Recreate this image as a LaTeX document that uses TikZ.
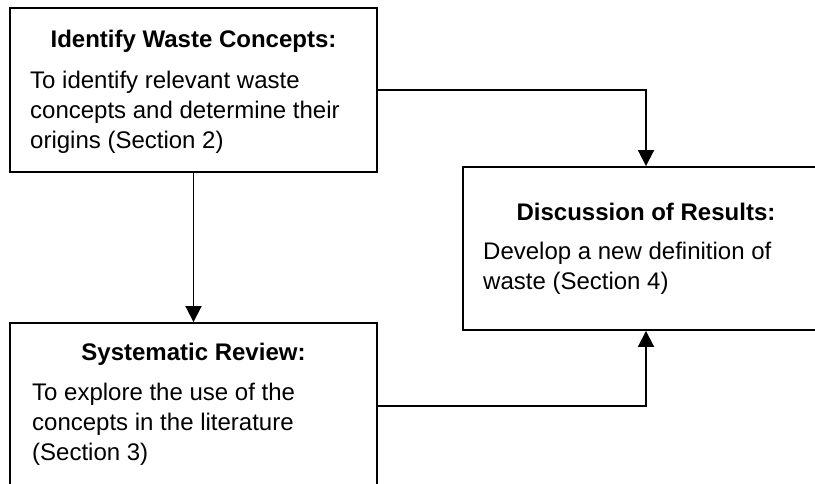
\documentclass[tikz,border=0pt]{standalone}
\usepackage{fontspec}
\setmainfont{Liberation Sans}
\usetikzlibrary{arrows.meta}
\begin{document}
\begin{tikzpicture}[x=1pt,y=-1pt,
  box/.style={draw, line width=1.9pt, inner sep=0pt},
  ttl/.style={font=\fontsize{24}{30}\selectfont\bfseries, anchor=base, inner sep=0pt},
  txt/.style={font=\fontsize{24}{30}\selectfont, anchor=base west, inner sep=0pt},
  arr/.style={line width=1.9pt, -{Triangle[width=16pt,length=16pt]}}]
\useasboundingbox (0,0) rectangle (815,483);
\clip (0,0) rectangle (815,483);
% boxes
\node[box, minimum width=367pt, minimum height=164pt] (top) at (193.5,90) {};
\node[box, minimum width=366pt, minimum height=163pt] (res) at (646,248.5) {};
\node[box, minimum width=367pt, minimum height=166pt] (rev) at (193.5,406) {};
% top box text
\node[ttl] (t1) at (193.5,47) {Identify Waste Concepts:};
\node[txt] (t1a) at (30,88) {To identify relevant waste};
\node[txt] (t1b) at (30,118) {concepts and determine their};
\node[txt] (t1c) at (30,148) {origins (Section 2)};
% right box text
\node[ttl] (t2) at (646,220) {Discussion of Results:};
\node[txt] (t2a) at (483,259) {Develop a new definition of};
\node[txt] (t2b) at (483,289) {waste (Section 4)};
% bottom box text
\node[ttl] (t3) at (193.5,360) {Systematic Review:};
\node[txt] (t3a) at (32,400) {To explore the use of the};
\node[txt] (t3b) at (32,430) {concepts in the literature};
\node[txt] (t3c) at (32,460) {(Section 3)};
% connectors
\draw[arr] (top.south) -- (rev.north);
\draw[arr] (top.east) -| (res.north);
\draw[arr] (rev.east) -| (res.south);
\end{tikzpicture}
\end{document}
